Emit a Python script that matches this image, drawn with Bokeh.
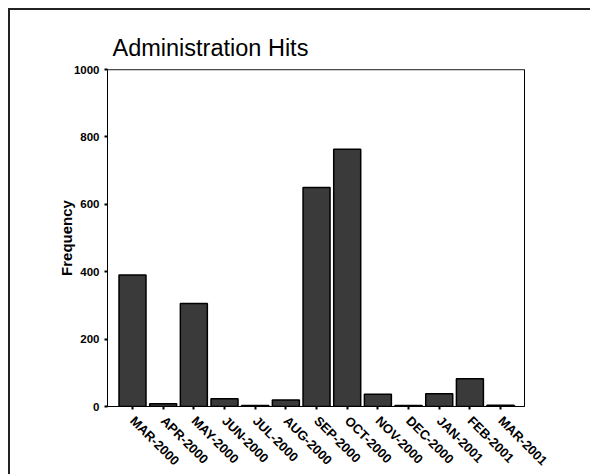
import math
from bokeh.plotting import figure
from bokeh.models import Range1d, FixedTicker, Span
from bokeh.embed import file_html
from bokeh.resources import INLINE

months = ["MAR-2000", "APR-2000", "MAY-2000", "JUN-2000", "JUL-2000", "AUG-2000",
          "SEP-2000", "OCT-2000", "NOV-2000", "DEC-2000", "JAN-2001", "FEB-2001", "MAR-2001"]
hits = [390, 8, 306, 23, 3, 19, 650, 763, 36, 3, 38, 82, 4]
y_ticks = [0, 200, 400, 600, 800, 1000]

xs = list(range(len(months)))

p = figure(width=582, height=466, output_backend="svg", toolbar_location=None,
           x_range=Range1d(-0.815, 12.78), y_range=Range1d(0, 1000),
           min_border_left=97, min_border_right=68, min_border_top=59, min_border_bottom=70)
p.styles = {"margin": "8px 0 0 8px", "border-top": "2px solid #222", "border-left": "2px solid #222"}

p.title.text = "Administration Hits"
p.title.text_font = "Liberation Sans"
p.title.text_font_size = "23.5px"
p.title.text_font_style = "normal"
p.title.text_color = "black"
p.title.offset = 5
p.title.standoff = 17

p.vbar(x=xs, top=hits, width=0.88, fill_color="#3a3a3a", line_color="black", line_width=1.5)

p.xgrid.visible = False
p.ygrid.visible = False
p.outline_line_color = "black"
p.outline_line_width = 1
p.add_layout(Span(location=1000, dimension="width", line_color="#999999", line_width=2))

p.xaxis.ticker = FixedTicker(ticks=xs)
p.xaxis.major_label_overrides = {i: m for i, m in enumerate(months)}
p.xaxis.major_label_orientation = -math.pi / 4
p.xaxis.major_label_standoff = 9
p.xaxis.major_label_text_font = "Liberation Sans"
p.xaxis.major_label_text_font_size = "13px"
p.xaxis.major_label_text_font_style = "bold"
p.xaxis.major_label_text_color = "black"
p.xaxis.major_tick_in = 0
p.xaxis.major_tick_out = 3
p.xaxis.major_tick_line_width = 2
p.xaxis.minor_tick_line_color = None
p.xaxis.axis_line_color = "black"

p.yaxis.ticker = FixedTicker(ticks=y_ticks)
p.yaxis.axis_label = "Frequency"
p.yaxis.axis_label_text_font = "Liberation Sans"
p.yaxis.axis_label_text_font_size = "15px"
p.yaxis.axis_label_text_font_style = "bold"
p.yaxis.axis_label_text_color = "black"
p.yaxis.axis_label_standoff = -4
p.yaxis.major_label_text_font = "Liberation Sans"
p.yaxis.major_label_text_font_size = "11.5px"
p.yaxis.major_label_text_font_style = "bold"
p.yaxis.major_label_text_color = "black"
p.yaxis.major_tick_in = 0
p.yaxis.major_tick_out = 3
p.yaxis.major_tick_line_width = 2
p.yaxis.minor_tick_line_color = None
p.yaxis.axis_line_color = "black"

open("out.html", "w").write(file_html(p, INLINE))
